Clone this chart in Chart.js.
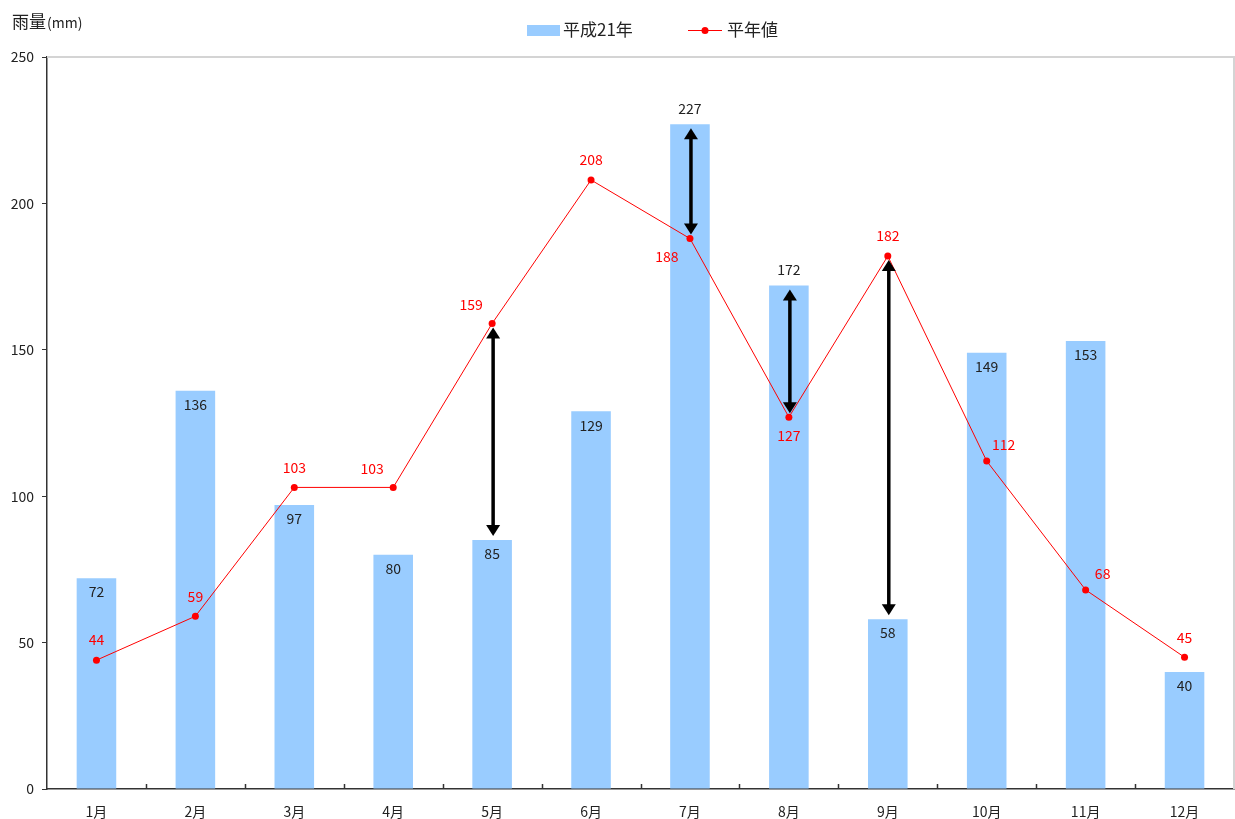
<!DOCTYPE html>
<html>
<head>
<meta charset="utf-8">
<script src="https://cdn.jsdelivr.net/npm/chart.js@4/dist/chart.umd.min.js"></script>
<style>
  html, body { margin: 0; padding: 0; background: #fff; overflow: hidden; }
  canvas { display: block; }
</style>
</head>
<body>
<canvas id="grafico" width="1235" height="819"></canvas>
<script>
// datos
const meses = ["1月", "2月", "3月", "4月", "5月", "6月", "7月", "8月", "9月", "10月", "11月", "12月"];
const lluvia2009 = [72, 136, 97, 80, 85, 129, 227, 172, 58, 149, 153, 40];
const normal = [44, 59, 103, 103, 159, 208, 188, 127, 182, 112, 68, 45];
const ticksY = [0, 50, 100, 150, 200, 250];
const flechas = [4, 6, 7, 8]; // meses con flecha de diferencia

// dónde va cada etiqueta (solo estilo)
const posBarra = ["in", "in", "in", "in", "in", "in", "out", "out", "in", "in", "in", "in"];
const posLinea = ["t", "t", "t", "tl", "tl", "t", "bl", "b", "t", "tr", "tr", "t"];

const fuente = '"Noto Sans CJK JP", "Noto Sans", sans-serif';
const azul = "#99CCFF";
const rojo = "#FF0000";

function flecha(ctx, x, y1, y2) {
    // flecha de doble punta entre y1 (arriba) y y2 (abajo)
    const h = 11, w = 7;
    ctx.save();
    ctx.strokeStyle = "#000";
    ctx.fillStyle = "#000";
    ctx.lineWidth = 3.5;
    ctx.beginPath();
    ctx.moveTo(x, y1 + h - 2);
    ctx.lineTo(x, y2 - h + 2);
    ctx.stroke();
    ctx.beginPath();
    ctx.moveTo(x, y1); ctx.lineTo(x - w, y1 + h); ctx.lineTo(x + w, y1 + h); ctx.closePath();
    ctx.fill();
    ctx.beginPath();
    ctx.moveTo(x, y2); ctx.lineTo(x - w, y2 - h); ctx.lineTo(x + w, y2 - h); ctx.closePath();
    ctx.fill();
    ctx.restore();
}

const extras = {
    id: "extras",
    afterDraw(chart) {
        const ctx = chart.ctx;
        const a = chart.chartArea;
        const x = chart.scales.x, y = chart.scales.y;

        // borde gris arriba y a la derecha
        ctx.save();
        ctx.strokeStyle = "#d4d4d4";
        ctx.lineWidth = 2;
        ctx.beginPath();
        ctx.moveTo(a.left, a.top); ctx.lineTo(a.right, a.top); ctx.lineTo(a.right, a.bottom);
        ctx.stroke();

        // marcas del eje x hacia dentro
        ctx.strokeStyle = "#333";
        ctx.lineWidth = 1.5;
        const paso = (a.right - a.left) / meses.length;
        for (let i = 1; i < meses.length; i++) {
            const px = Math.round(a.left + paso * i) + 0.5;
            ctx.beginPath();
            ctx.moveTo(px, a.bottom);
            ctx.lineTo(px, a.bottom - 5);
            ctx.stroke();
        }
        ctx.restore();

        // flechas
        flechas.forEach(i => {
            const px = x.getPixelForValue(i) + 1;
            const alto = Math.max(lluvia2009[i], normal[i]);
            const bajo = Math.min(lluvia2009[i], normal[i]);
            flecha(ctx, px, y.getPixelForValue(alto) + 4, y.getPixelForValue(bajo) - 4);
        });

        // etiquetas
        ctx.save();
        ctx.font = "14px " + fuente;
        ctx.textAlign = "center";
        ctx.textBaseline = "middle";
        lluvia2009.forEach((v, i) => {
            const px = x.getPixelForValue(i);
            const py = y.getPixelForValue(v);
            ctx.fillStyle = "#222";
            ctx.fillText(v, px, posBarra[i] === "in" ? py + 14 : py - 16);
        });
        const desp = { t: [0, -20], tl: [-21, -19], bl: [-23, 18], b: [0, 19], tr: [17, -16] };
        normal.forEach((v, i) => {
            const px = x.getPixelForValue(i);
            const py = y.getPixelForValue(v);
            const d = desp[posLinea[i]];
            ctx.fillStyle = rojo;
            ctx.fillText(v, px + d[0], py + d[1]);
        });

        // título del eje y
        ctx.textAlign = "left";
        ctx.fillStyle = "#222";
        ctx.font = "17px " + fuente;
        ctx.fillText("雨量", 12, 22);
        ctx.font = "14px " + fuente;
        ctx.fillText("(mm)", 47, 23);

        // leyenda
        ctx.font = "17px " + fuente;
        ctx.fillStyle = azul;
        ctx.fillRect(527, 25, 33, 11);
        ctx.fillStyle = "#222";
        ctx.fillText("平成21年", 563, 30);
        ctx.strokeStyle = rojo;
        ctx.lineWidth = 1;
        ctx.beginPath();
        ctx.moveTo(688, 30.5); ctx.lineTo(722, 30.5);
        ctx.stroke();
        ctx.fillStyle = rojo;
        ctx.beginPath();
        ctx.arc(705, 30.5, 3.5, 0, Math.PI * 2);
        ctx.fill();
        ctx.fillStyle = "#222";
        ctx.fillText("平年値", 727, 30);
        ctx.restore();
    }
};

function crearGrafico() {
    const ctx = document.getElementById("grafico").getContext("2d");
    new Chart(ctx, {
        data: {
            labels: meses,
            datasets: [
                {
                    type: "line",
                    label: "平年値",
                    data: normal,
                    borderColor: rojo,
                    borderWidth: 1,
                    pointRadius: 3.5,
                    pointBackgroundColor: rojo,
                    pointBorderWidth: 0,
                    tension: 0,
                    order: 1
                },
                {
                    type: "bar",
                    label: "平成21年",
                    data: lluvia2009,
                    backgroundColor: azul,
                    barPercentage: 0.4,
                    categoryPercentage: 1,
                    order: 2
                }
            ]
        },
        options: {
            responsive: false,
            animation: false,
            layout: { autoPadding: false, padding: { top: 57, left: 0, right: 1, bottom: 0 } },
            plugins: { legend: { display: false }, tooltip: { enabled: false } },
            scales: {
                x: {
                    grid: { display: false },
                    border: { color: "#333", width: 1.5 },
                    ticks: { color: "#222", font: { family: fuente, size: 14 }, padding: 6 },
                    afterFit: s => { s.height = 30; }
                },
                y: {
                    min: 0,
                    max: 250,
                    afterBuildTicks: s => { s.ticks = ticksY.map(v => ({ value: v })); },
                    grid: { drawOnChartArea: false, tickLength: 5, color: "#333" },
                    border: { color: "#333", width: 1.5 },
                    ticks: { color: "#222", font: { family: fuente, size: 14 }, padding: 8 },
                    afterFit: s => { s.width = 47; }
                }
            }
        },
        plugins: [extras]
    });
}

crearGrafico();
</script>
</body>
</html>
